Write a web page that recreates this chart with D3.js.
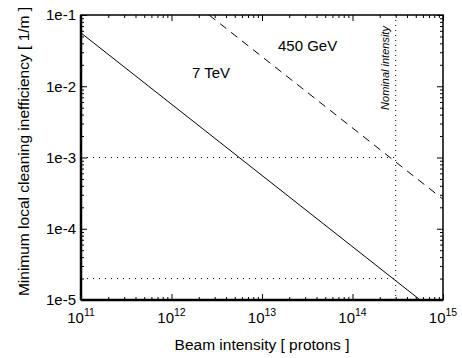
<!DOCTYPE html>
<html>
<head>
<meta charset="utf-8">
<script src="https://cdn.jsdelivr.net/npm/d3@7"></script>
<style>
  body { margin: 0; background: #fff; }
  text { font-family: "Liberation Sans", Arial, sans-serif; fill: #000; }
</style>
</head>
<body>
<div id="chart"></div>
<script>
// curves (intensity in protons, inefficiency in 1/m)
const tevIntensity = [1e11, 5.6e14];
const tevIneff = [5.6e-2, 1e-5];
const gevIntensity = [2.6e12, 1e15];
const gevIneff = [1e-1, 2.6e-4];

const nominalIntensity = 3e14;
const refLevels = [1e-3, 2e-5];

const xMajor = [1e11, 1e12, 1e13, 1e14, 1e15];
const xMajorExp = ["11", "12", "13", "14", "15"];
const yMajor = [1e-1, 1e-2, 1e-3, 1e-4, 1e-5];
const yMajorLabels = ["1e-1", "1e-2", "1e-3", "1e-4", "1e-5"];

const full_width = 462, full_height = 358;
const margin = {top: 15, right: 19, bottom: 58, left: 81};
const width = full_width - margin.left - margin.right;
const height = full_height - margin.top - margin.bottom;

const svg = d3.select('#chart').append('svg')
  .attr('width', full_width)
  .attr('height', full_height);
const g = svg.append('g')
  .attr('transform', 'translate(' + margin.left + ',' + margin.top + ')');

const x = d3.scaleLog().domain([1e11, 1e15]).range([0, width]);
const y = d3.scaleLog().domain([1e-5, 1e-1]).range([height, 0]);

const xMinor = x.ticks().filter(v => xMajor.indexOf(v) < 0);
const yMinor = y.ticks().filter(v => !yMajor.some(m => Math.abs(m - v) / m < 1e-9));

g.append('clipPath').attr('id', 'clip')
  .append('rect').attr('width', width).attr('height', height);

// ticks on all four sides, pointing inward
function tickAxis(axisFn, vals, size, transform) {
  const a = g.append('g')
    .attr('transform', transform)
    .call(axisFn.tickValues(vals).tickSize(size).tickFormat(''));
  a.select('.domain').remove();
  a.selectAll('line').attr('stroke', '#000').attr('stroke-width', 1);
}
tickAxis(d3.axisBottom(x), xMinor, -3, 'translate(0,' + height + ')');
tickAxis(d3.axisBottom(x), xMajor, -6, 'translate(0,' + height + ')');
tickAxis(d3.axisTop(x), xMinor, -3, 'translate(0,0)');
tickAxis(d3.axisTop(x), xMajor, -6, 'translate(0,0)');
tickAxis(d3.axisLeft(y), yMinor, -3, 'translate(0,0)');
tickAxis(d3.axisLeft(y), yMajor, -6, 'translate(0,0)');
tickAxis(d3.axisRight(y), yMinor, -3, 'translate(' + width + ',0)');
tickAxis(d3.axisRight(y), yMajor, -6, 'translate(' + width + ',0)');

// frame
g.append('rect')
  .attr('width', width).attr('height', height)
  .attr('fill', 'none').attr('stroke', '#000').attr('stroke-width', 1.5);
g.append('line').attr('x1', 0).attr('x2', 0).attr('y1', 0).attr('y2', height)
  .attr('stroke', '#000').attr('stroke-width', 2.5);
g.append('line').attr('x1', 0).attr('x2', width).attr('y1', height).attr('y2', height)
  .attr('stroke', '#000').attr('stroke-width', 2.5);

// tick labels
xMajor.forEach((v, i) => {
  const t = g.append('text')
    .attr('x', x(v)).attr('y', height + 23)
    .attr('text-anchor', 'middle')
    .style('font-size', '15px');
  t.append('tspan').text('10');
  t.append('tspan').attr('dy', -7).style('font-size', '10.5px').text(xMajorExp[i]);
});
yMajor.forEach((v, i) => {
  g.append('text')
    .attr('x', -5).attr('y', y(v)).attr('dy', '0.35em')
    .attr('text-anchor', 'end')
    .style('font-size', '15px')
    .text(yMajorLabels[i]);
});

// axis titles
svg.append('text')
  .attr('x', margin.left + width / 2).attr('y', 350)
  .attr('text-anchor', 'middle').style('font-size', '15.5px')
  .text('Beam intensity [ protons ]');
svg.append('text')
  .attr('transform', 'translate(29,' + (margin.top + height / 2 - 6) + ') rotate(-90)')
  .attr('text-anchor', 'middle').style('font-size', '15.5px')
  .text('Minimum local cleaning inefficiency [ 1/m ]');

const plot = g.append('g').attr('clip-path', 'url(#clip)');

// reference dotted lines
plot.append('line')
  .attr('x1', x(nominalIntensity)).attr('x2', x(nominalIntensity))
  .attr('y1', 0).attr('y2', height)
  .attr('stroke', '#000').attr('stroke-dasharray', '1,4');
refLevels.forEach(lv => {
  plot.append('line')
    .attr('x1', 0).attr('x2', x(nominalIntensity))
    .attr('y1', y(lv)).attr('y2', y(lv))
    .attr('stroke', '#000').attr('stroke-dasharray', '1,5');
});

const line = d3.line().x(d => x(d[0])).y(d => y(d[1]));
plot.append('path')
  .datum(d3.zip(tevIntensity, tevIneff))
  .attr('d', line)
  .attr('fill', 'none').attr('stroke', '#000').attr('stroke-width', 1);
plot.append('path')
  .datum(d3.zip(gevIntensity, gevIneff))
  .attr('d', line)
  .attr('fill', 'none').attr('stroke', '#000').attr('stroke-width', 1)
  .attr('stroke-dasharray', '8,6');

// annotations
svg.append('text').attr('x', 192).attr('y', 78)
  .style('font-size', '15px').text('7 TeV');
svg.append('text').attr('x', 278).attr('y', 51)
  .style('font-size', '15px').text('450 GeV');
svg.append('text')
  .attr('transform', 'translate(389,68) rotate(-90)')
  .attr('text-anchor', 'middle')
  .style('font-size', '11px').style('font-style', 'italic')
  .text('Nominal intensity');
</script>
</body>
</html>
